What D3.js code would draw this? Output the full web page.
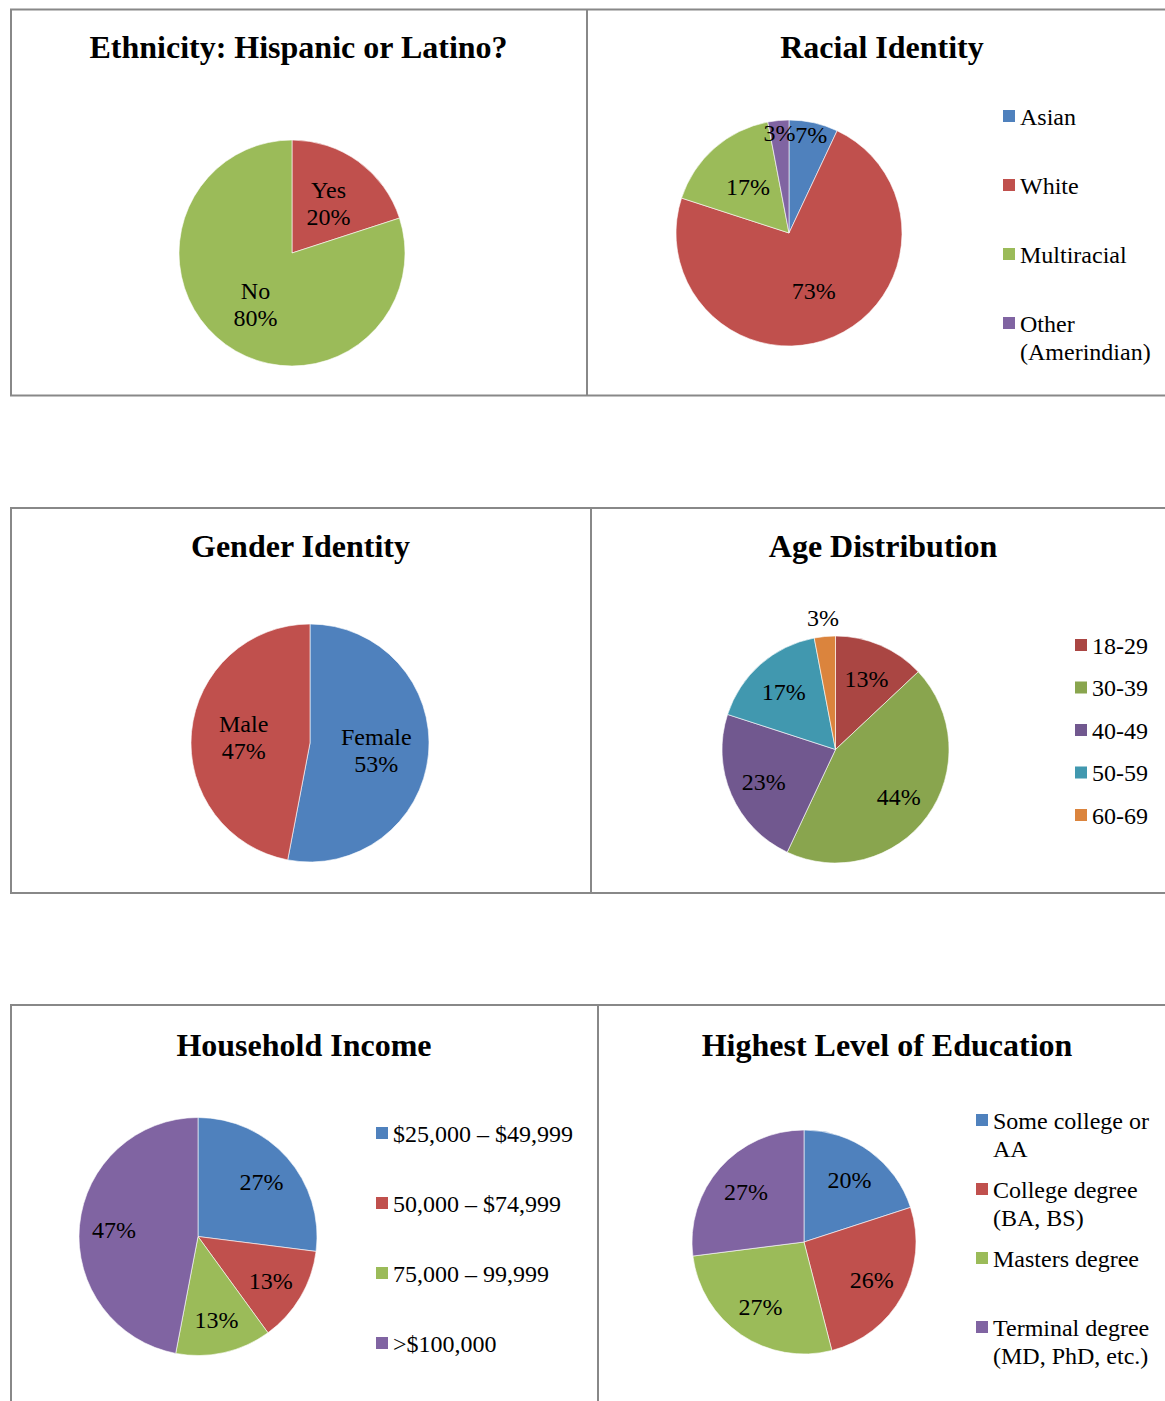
<!DOCTYPE html>
<html lang="en">
<head>
<meta charset="UTF-8">
<title>Survey demographics</title>
<style>
body { margin: 0; background: #fff; }
text { font-family: "Liberation Serif", "Times New Roman", serif; fill: #000; }
.title { font-size: 32px; font-weight: bold; }
.lbl, .leg { font-size: 24px; }
.frame { fill: none; stroke: #888; stroke-width: 2; }
</style>
</head>
<body>
<script src="https://cdn.jsdelivr.net/npm/d3@7"></script>
<script>
// data
var ethnicityNames = ["Yes", "No"];
var ethnicityValues = [20, 80];

var raceNames = [["Asian"], ["White"], ["Multiracial"], ["Other", "(Amerindian)"]];
var raceValues = [7, 73, 17, 3];

var genderNames = ["Female", "Male"];
var genderValues = [53, 47];

var ageNames = [["18-29"], ["30-39"], ["40-49"], ["50-59"], ["60-69"]];
var ageValues = [13, 44, 23, 17, 3];

var incomeNames = [["$25,000 \u2013 $49,999"], ["50,000 \u2013 $74,999"], ["75,000 \u2013 99,999"], [">$100,000"]];
var incomeValues = [27, 13, 13, 47];

var eduNames = [["Some college or", "AA"], ["College degree", "(BA, BS)"], ["Masters degree"], ["Terminal degree", "(MD, PhD, etc.)"]];
var eduValues = [20, 26, 27, 27];

var blue = "#4F81BD", red = "#C0504D", green = "#9BBB59", purple = "#8064A2";
var ageColors = ["#AA4643", "#89A54E", "#71588F", "#4198AF", "#DB843D"];

var W = 1165, H = 1401;
var svg = d3.select("body").append("svg").attr("width", W).attr("height", H);

// panel frames (right side runs off the page)
var rows = [{top: 9.5, bottom: 395.5, split: 587}, {top: 508, bottom: 893, split: 591}, {top: 1005, bottom: 1420, split: 598}];
rows.forEach(function(r) {
    svg.append("rect").attr("class", "frame")
        .attr("x", 11).attr("y", r.top).attr("width", 1180).attr("height", r.bottom - r.top);
    svg.append("line").attr("class", "frame")
        .attr("x1", r.split).attr("x2", r.split).attr("y1", r.top).attr("y2", r.bottom);
});

var pie = d3.pie().sort(null).value(function(d) { return d; });
var shift = 3; // nudge for middle baseline

function drawPie(cfg) {
    var g = svg.append("g");
    var titleX = (cfg.x0 + cfg.x1) / 2;
    g.append("text").attr("class", "title")
        .attr("x", titleX).attr("y", cfg.titleY + shift)
        .attr("text-anchor", "middle").attr("dominant-baseline", "middle")
        .text(cfg.title);

    var arcs = pie(cfg.values);
    var arc = d3.arc().innerRadius(0).outerRadius(cfg.r);
    var pg = g.append("g").attr("transform", "translate(" + cfg.cx + "," + cfg.cy + ")");
    pg.selectAll("path").data(arcs).enter().append("path")
        .attr("d", arc)
        .attr("fill", function(d, i) { return cfg.colors[i]; })
        .attr("stroke", "#fff").attr("stroke-width", 0.6);

    pg.selectAll("text.lbl").data(arcs).enter().append("text")
        .attr("class", "lbl")
        .attr("text-anchor", "middle").attr("dominant-baseline", "middle")
        .each(function(d, i) {
            var k = d.data < 8 ? cfg.smallK : cfg.labelK;
            var c = d3.arc().innerRadius(cfg.r * k).outerRadius(cfg.r * k).centroid(d);
            var lines = cfg.inlineNames ? [cfg.inlineNames[i], d.data + "%"] : [d.data + "%"];
            var t = d3.select(this);
            lines.forEach(function(s, j) {
                t.append("tspan").attr("x", c[0])
                    .attr("y", c[1] + shift + (j - (lines.length - 1) / 2) * 27)
                    .text(s);
            });
        });

    if (cfg.legend) {
        var lg = g.append("g");
        cfg.legend.forEach(function(lines, i) {
            var y = cfg.legendY0 + i * cfg.legendStep;
            lg.append("rect").attr("x", cfg.legendX).attr("y", y - 6)
                .attr("width", 12).attr("height", 12).attr("fill", cfg.colors[i]);
            lines.forEach(function(s, j) {
                lg.append("text").attr("class", "leg")
                    .attr("x", cfg.legendX + 17).attr("y", y + shift + j * 28)
                    .attr("dominant-baseline", "middle").text(s);
            });
        });
    }
}

drawPie({title: "Ethnicity: Hispanic or Latino?", values: ethnicityValues, colors: [red, green],
    inlineNames: ethnicityNames, x0: 10, x1: 587, titleY: 48, cx: 292, cy: 253, r: 113,
    labelK: 0.55, smallK: 0.55});

drawPie({title: "Racial Identity", values: raceValues, colors: [blue, red, green, purple],
    legend: raceNames, x0: 587, x1: 1177, titleY: 48, cx: 789, cy: 233, r: 113,
    labelK: 0.55, smallK: 0.9, legendX: 1003, legendY0: 116, legendStep: 69});

drawPie({title: "Gender Identity", values: genderValues, colors: [blue, red],
    inlineNames: genderNames, x0: 10, x1: 591, titleY: 547, cx: 310, cy: 743, r: 119,
    labelK: 0.56, smallK: 0.56});

drawPie({title: "Age Distribution", values: ageValues, colors: ageColors,
    legend: ageNames, x0: 591, x1: 1175, titleY: 547, cx: 835.5, cy: 749.5, r: 113.5,
    labelK: 0.69, smallK: 1.17, legendX: 1075, legendY0: 645, legendStep: 42.5});

drawPie({title: "Household Income", values: incomeValues, colors: [blue, red, green, purple],
    legend: incomeNames, x0: 10, x1: 598, titleY: 1046, cx: 198, cy: 1236.5, r: 119,
    labelK: 0.71, smallK: 0.71, legendX: 376, legendY0: 1133, legendStep: 70});

drawPie({title: "Highest Level of Education", values: eduValues, colors: [blue, red, green, purple],
    legend: eduNames, x0: 598, x1: 1176, titleY: 1046, cx: 804, cy: 1242, r: 112,
    labelK: 0.69, smallK: 0.69, legendX: 976, legendY0: 1120, legendStep: 69});
</script>
</body>
</html>
